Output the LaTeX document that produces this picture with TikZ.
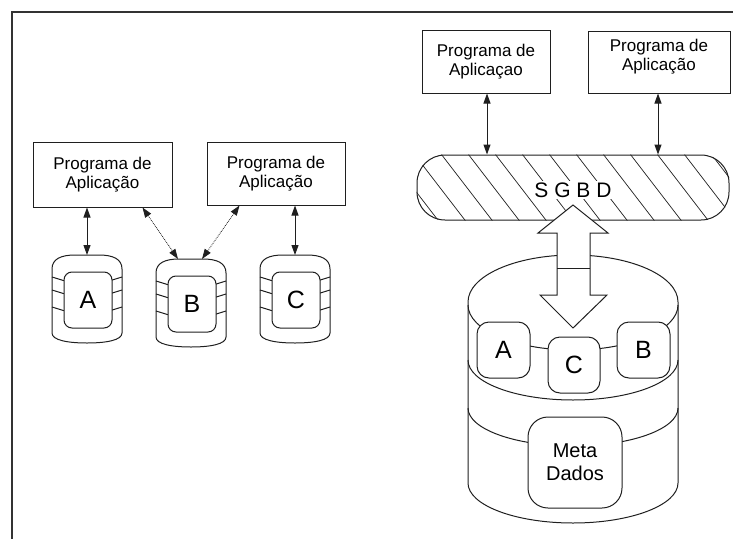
\documentclass[tikz,border=0pt]{standalone}
\usepackage{fontspec}
\setmainfont{Liberation Sans}
\usetikzlibrary{arrows.meta,calc}
\definecolor{ink}{gray}{0.12}
\tikzset{
  ln/.style={draw=ink,line width=1pt},
  prog/.style={ln,fill=white,align=center,inner sep=0pt,font=\fontsize{17}{19}\selectfont},
  inbox/.style={ln,fill=white,rounded corners=8pt,minimum width=48pt,minimum height=56pt,inner sep=0pt,font=\fontsize{25}{25}\selectfont},
  bigbox/.style={ln,fill=white,rounded corners=12pt,minimum width=53pt,minimum height=56pt,inner sep=0pt,font=\fontsize{25}{25}\selectfont},
  link/.style={draw=ink,line width=1pt,{Triangle[length=10pt,width=7pt]}-{Triangle[length=10pt,width=7pt]}},
  dlink/.style={link,line width=0.8pt,densely dotted},
  frame/.style={draw=black!80,line width=2pt}
}
\newcommand\smallcyl[4]{%
  \draw[ln] ({#2-35},{#3-30}) .. controls ({#2-35},{#3-40}) and ({#2-26},{#3-44}) .. ({#2-12},{#3-44})
    -- ({#2+12},{#3-44}) .. controls ({#2+26},{#3-44}) and ({#2+35},{#3-40}) .. ({#2+35},{#3-30})
    -- ({#2+35},{#3+34}) .. controls ({#2+35},{#3+41}) and ({#2+20},{#3+44}) .. ({#2},{#3+44})
    .. controls ({#2-20},{#3+44}) and ({#2-35},{#3+41}) .. ({#2-35},{#3+34}) -- cycle;
  \coordinate (#1top) at (#2,{#3-44});
  \foreach \dy in {-22,-9,8} {
    \draw[ln] ({#2-35},{#3+\dy}) -- ({#2-22},{#3+\dy+4});
    \draw[ln] ({#2+35},{#3+\dy}) -- ({#2+22},{#3+\dy+4});
  }
  \node[inbox] (#1) at ({#2+1},{#3+1}) {#4};
}
\begin{document}
\begin{tikzpicture}[x=1pt,y=-1pt]
\useasboundingbox (0,0) rectangle (733,538);
% frame
\draw[frame] (11.5,540) -- (11.5,11.5) -- (735,11.5);

% left side
\node[prog,minimum width=139pt,minimum height=65pt] (prog1) at (102.5,174.5) {Programa de\\Aplicação};
\node[prog,minimum width=138pt,minimum height=63pt] (prog2) at (276,173.5) {Programa de\\Aplicação};

\smallcyl{cylA}{87}{299}{A}
\smallcyl{cylB}{191}{303}{B}
\smallcyl{cylC}{295}{299}{C}

\draw[link] (cylAtop |- prog1.south) -- (cylAtop);
\draw[link] (cylCtop |- prog2.south) -- (cylCtop);
\draw[dlink] ([xshift=-30pt]prog1.south east) -- ([xshift=-13pt]cylBtop);
\draw[dlink] ([xshift=33pt]prog2.south west) -- ([xshift=11pt]cylBtop);

% right side
\node[prog,minimum width=128pt,minimum height=63pt] (prog3) at (486,61.5) {Programa de\\Aplicaçao};
\node[ln,fill=white,minimum width=142pt,minimum height=62pt,inner sep=0pt] (prog4) at (659,62) {};
\node[align=center,inner sep=0pt,font=\fontsize{17}{19}\selectfont] (prog4t) at ([yshift=5pt]prog4.center) {Programa de\\Aplicação};

\node[ln,rounded corners=28pt,minimum width=312pt,minimum height=65pt,inner sep=0pt] (sgbd) at (573,187.5) {};
\begin{scope}
  \clip[rounded corners=28pt] (sgbd.south west) rectangle (sgbd.north east);
  \foreach \x in {330,357,...,740} \draw[draw=ink,line width=0.7pt] (\x,150) -- ++(60,78);
\end{scope}
\node[fill=white,inner sep=1.5pt,font=\fontsize{21}{21}\selectfont] (sgbdt) at (573,190) {S G B D};

\draw[link] (prog3.south -| 487,0) -- (487,0 |- sgbd.north);
\draw[link] (prog4.south -| 658,0) -- (658,0 |- sgbd.north);

% big cylinder
\draw[ln] (468,483) -- (468,302) arc[start angle=180,end angle=360,x radius=105,y radius=47]
  -- (678,483) arc[start angle=0,end angle=180,x radius=105,y radius=40];
\coordinate (cyltop) at (573,255);
\draw[ln] (468,305) arc[start angle=180,end angle=0,x radius=105,y radius=45];
\draw[ln] (468,360) arc[start angle=180,end angle=0,x radius=105,y radius=40];
\draw[ln] (468,408) arc[start angle=180,end angle=0,x radius=105,y radius=38];

\node[bigbox] (bA) at (503.5,350) {A};
\node[bigbox,minimum width=52pt] (bC) at (574,365) {C};
\node[bigbox] (bB) at (643.5,350) {B};
\node[bigbox,minimum width=94pt,minimum height=91pt,rounded corners=20pt,align=center,font=\fontsize{20}{23}\selectfont] (meta) at (575,462.5) {Meta\\Dados};

% big double arrow
\coordinate (atop) at (573,205);
\coordinate (abot) at (573,328);
\draw[ln,fill=white,line join=miter] (atop) -- (608,233) -- (590,233) -- (590,295) -- (607,295) -- (abot)
  -- (540,295) -- (557,295) -- (557,233) -- (538,233) -- cycle;
\draw[ln] (557,268) -- (590,268);
\end{tikzpicture}
\end{document}
